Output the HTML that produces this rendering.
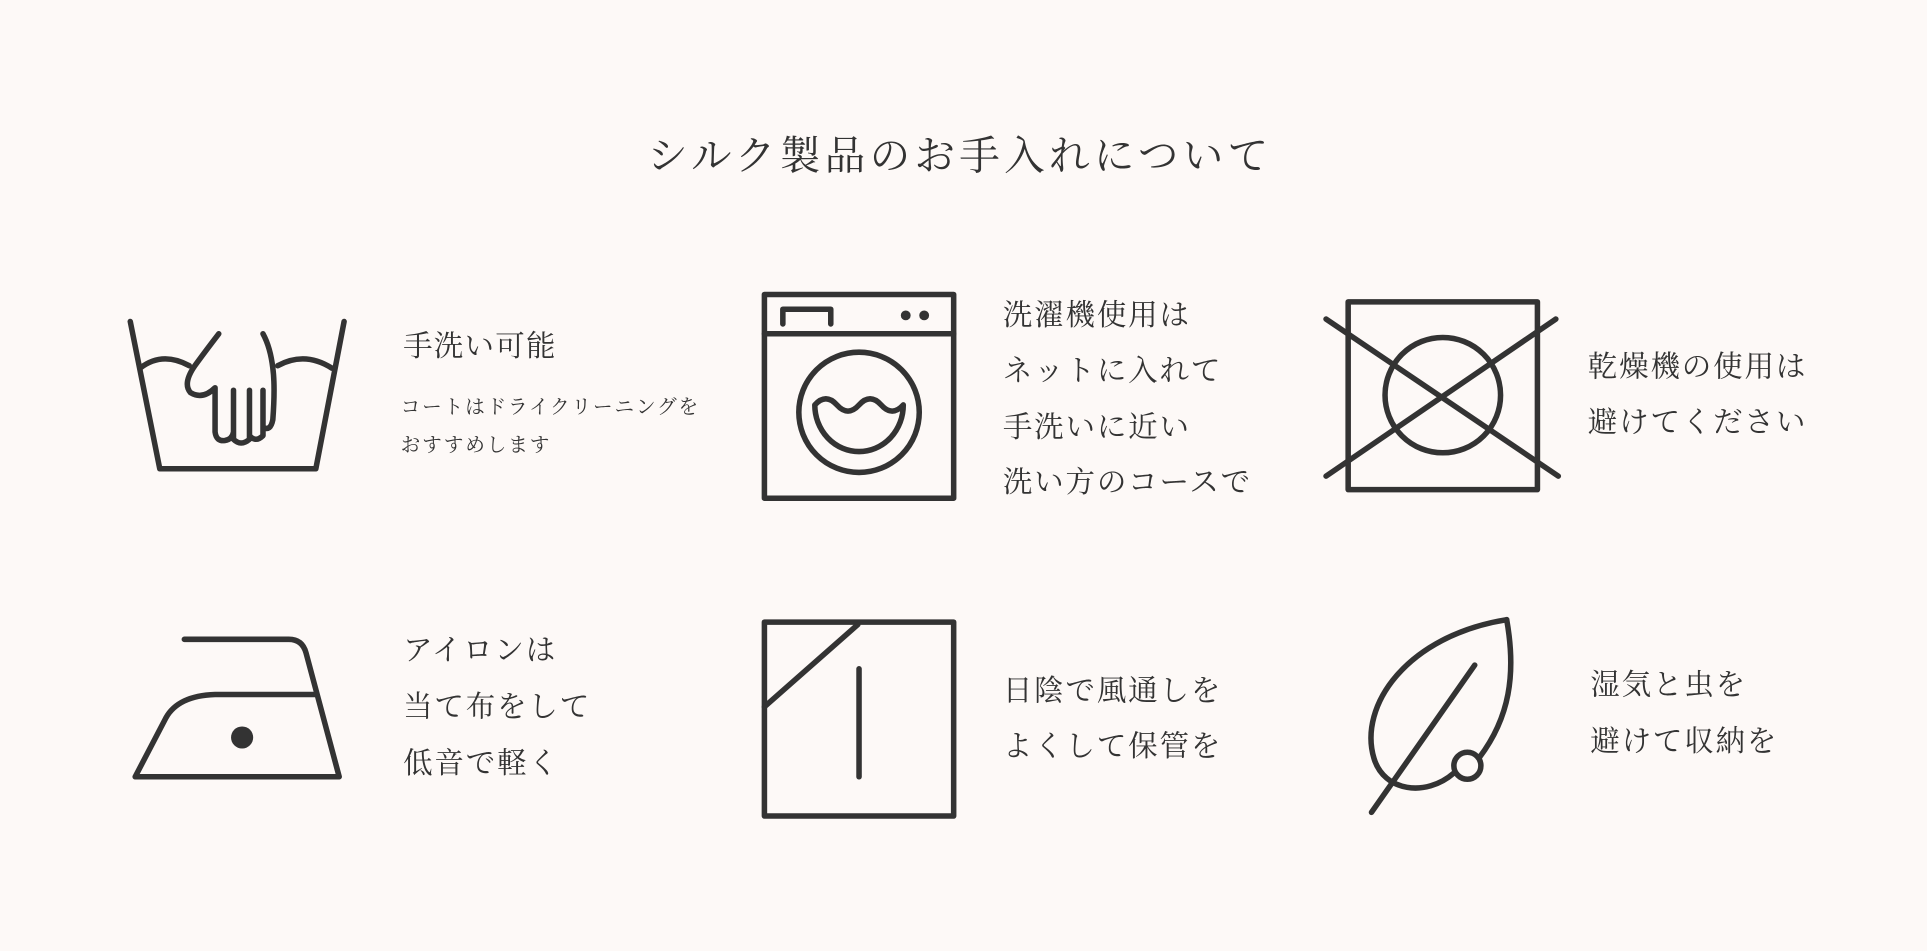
<!DOCTYPE html>
<html><head><meta charset="utf-8"><style>
html,body{margin:0;padding:0;background:#fdf9f7;}
svg{display:block}
text{font-family:"Liberation Serif","Noto Serif CJK SC","Noto Serif CJK JP",serif;fill:#333;}
</style></head><body>
<svg width="1927" height="951" viewBox="0 0 1568 775" preserveAspectRatio="none">
<rect width="1568" height="775" fill="#fdf9f7"/>
<g fill="none" stroke="#333" stroke-width="4.5" stroke-linecap="round" stroke-linejoin="round">
<path d="M106,262 L130,382 H257 L280,262"/>
<path d="M114,300 Q132,286 154,298"/>
<path d="M226,298 Q248,286 270,300"/>
<path d="M178,272 Q168,285 160,296 Q148,312 155,320 Q165,326 175,316 V352 Q176,360 183,359 Q189,358 190,352 V318 M190,330 V358 Q196,364 203,358 V318 M203,330 V355 Q208,361 214,355 V318 M214,335 V348 Q220,352 222,342 Q224,315 222,300 Q220,283 214,272"/>
<rect x="622" y="240" width="154" height="166"/>
<line x1="622" y1="272" x2="776" y2="272"/>
<path d="M637,264 V252 H676 V264"/>
<circle cx="699" cy="336" r="49"/>
<path d="M663,330 q9,-10 18,0 q9,10 18,0 q9,-10 18,0 q9,10 18,0 A36,38 0 0 1 663,330 Z"/>
<rect x="1097" y="246" width="154" height="153"/>
<circle cx="1174" cy="322" r="47"/>
<line x1="1079" y1="260" x2="1268" y2="388"/>
<line x1="1079" y1="388" x2="1266" y2="260"/>
<path d="M150,521 H235 Q246,521 249,532 L276,633 H110 L135,585 Q145,567 175,566 H257"/>
<rect x="622" y="507" width="154" height="158"/>
<line x1="622" y1="576" x2="698" y2="509"/>
<line x1="699" y1="545" x2="699" y2="633"/>
<path d="M1226,505 C1145,518 1105,575 1118,618 C1126,645 1160,650 1183,630"/>
<path d="M1204,617 C1228,585 1234,550 1226,505"/>
<circle cx="1194" cy="624" r="11"/>
<line x1="1200" y1="542" x2="1116" y2="662"/>
</g>
<circle cx="737" cy="257" r="4" fill="#333"/>
<circle cx="752" cy="257" r="4" fill="#333"/>
<circle cx="197" cy="601" r="9" fill="#333"/>
<text x="781" y="138" font-size="33" text-anchor="middle" letter-spacing="3.5">シルク製品のお手入れについて</text>
<text x="328" y="290" font-size="24" letter-spacing="1">手洗い可能</text>
<text x="326" y="337" font-size="16" letter-spacing="1.5">コートはドライクリーニングを</text>
<text x="326" y="368" font-size="16" letter-spacing="1.5">おすすめします</text>
<g font-size="24" letter-spacing="1.5">
<text x="816" y="265">洗濯機使用は</text>
<text x="816" y="310">ネットに入れて</text>
<text x="816" y="356">手洗いに近い</text>
<text x="816" y="401">洗い方のコースで</text>
<text x="1292" y="307">乾燥機の使用は</text>
<text x="1292" y="352">避けてください</text>
<text x="328" y="538">アイロンは</text>
<text x="328" y="584">当て布をして</text>
<text x="328" y="630">低音で軽く</text>
<text x="816" y="571">日陰で風通しを</text>
<text x="816" y="616">よくして保管を</text>
<text x="1294" y="566">湿気と虫を</text>
<text x="1294" y="612">避けて収納を</text>
</g>
</svg>
</body></html>
